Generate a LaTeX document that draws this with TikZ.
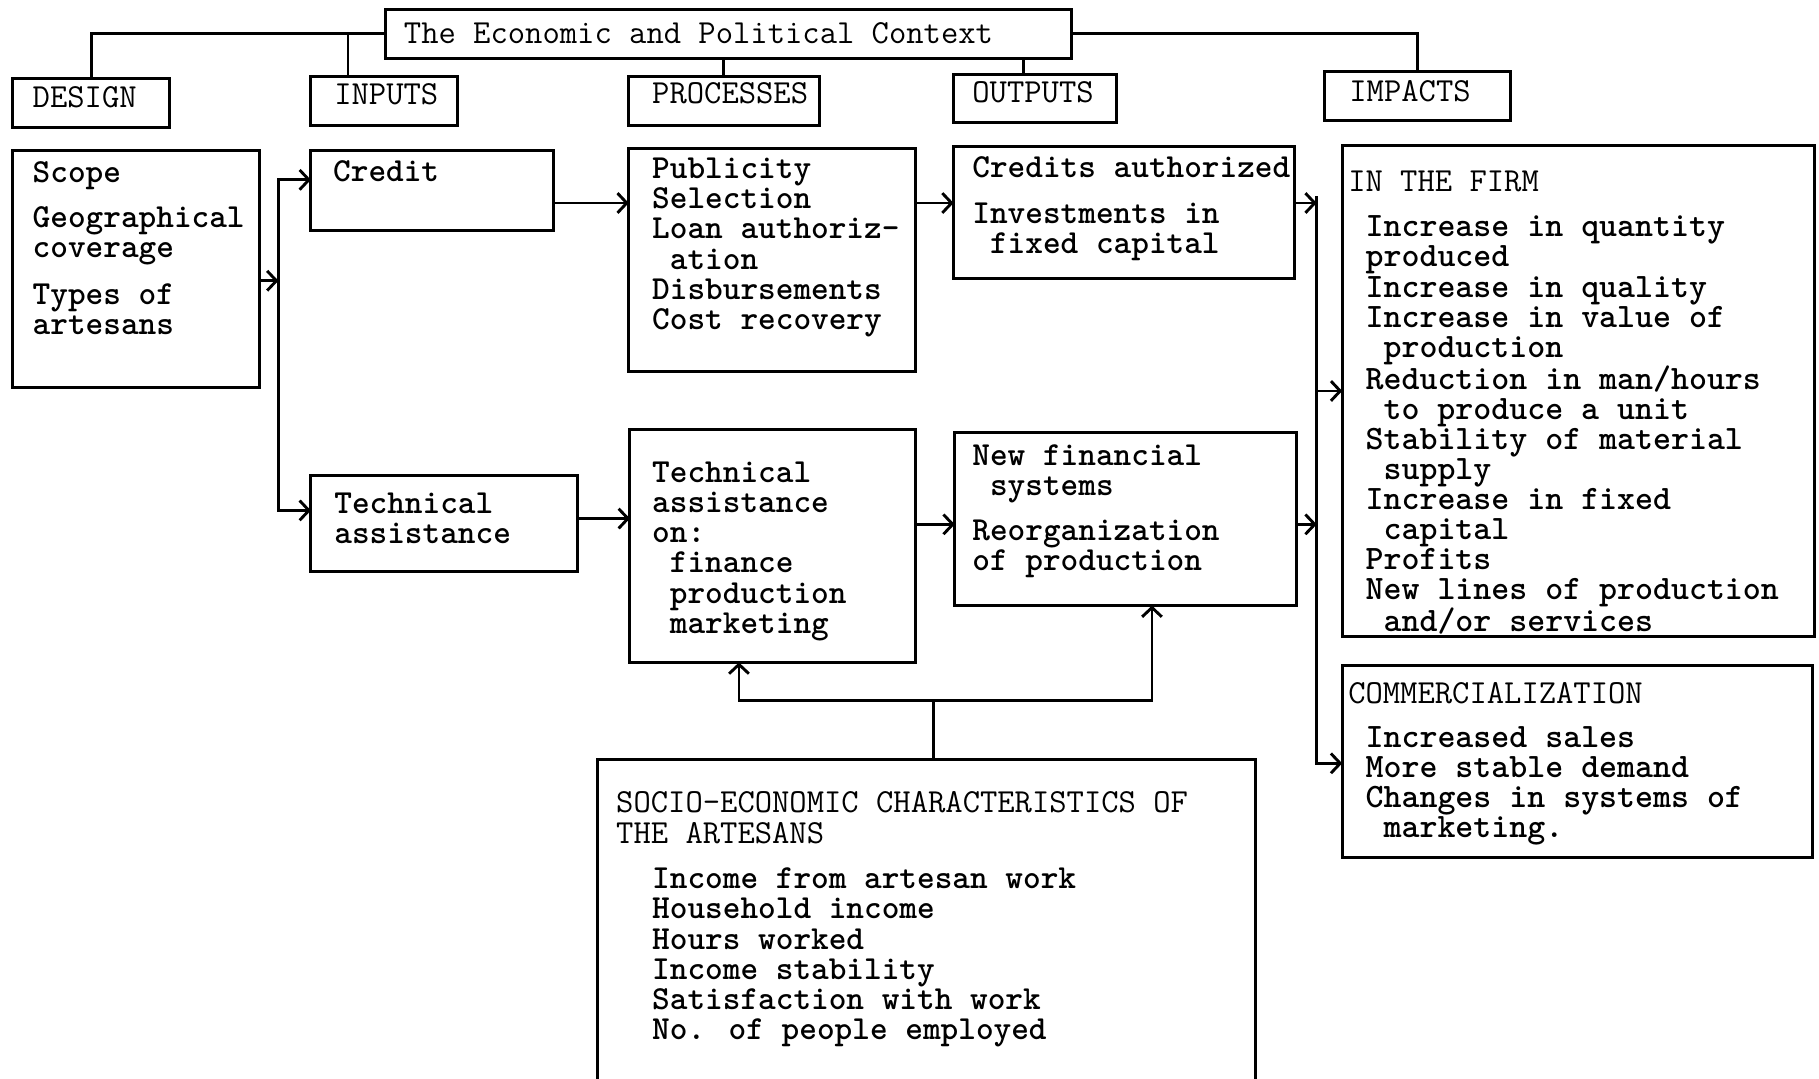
\documentclass[tikz,border=0pt]{standalone}
\usepackage{fontspec}
\usetikzlibrary{arrows.meta,calc}
\newcommand\ind{\hphantom{x}}
% \mkpanel{name}{x1}{y1}{x2}{y2}: an empty framed box between two corners
\newcommand\mkpanel[5]{%
  \node[panelbox, anchor=north west,
        minimum width={(#4-#2)*1pt}, minimum height={(#5-#3)*1pt}] (#1) at (#2,#3) {};}
\begin{document}
\begin{tikzpicture}[x=1pt,y=-1pt,
  panelbox/.style={draw, line width=2.6pt, inner sep=0pt, outer sep=0pt},
  wire/.style={line width=2.5pt, line cap=rect},
  arr/.style={line width=2.5pt, -{Straight Barb[length=8pt,width=17pt]}},
  % text blocks are placed by the baseline of their first line
  hdr/.style={anchor=north west, inner sep=0pt, align=left, yshift=18pt,
              execute at begin node={\rule{0pt}{18pt}},
              font=\ttfamily\fontsize{29}{26}\selectfont},
  itm/.style={hdr, font=\ttfamily\bfseries\fontsize{29}{26}\selectfont},
  wideitm/.style={hdr, font=\ttfamily\bfseries\fontsize{29.5}{25.9}\selectfont},
]
\fill[white] (0,0) rectangle (1568,930);
\useasboundingbox (0,0) rectangle (1568,930);

% frames
\mkpanel{ctx}{332}{8}{924}{50}
\mkpanel{hDesign}{11}{68}{146}{110}
\mkpanel{hInputs}{268}{66}{394}{108}
\mkpanel{hProc}{542}{66}{706}{108}
\mkpanel{hOut}{822}{64}{962}{106}
\mkpanel{hImp}{1142}{62}{1302}{104}
\mkpanel{dBox}{11}{130}{224}{334}
\mkpanel{credit}{268}{130}{477}{199}
\mkpanel{tech}{268}{410}{498}{493}
\mkpanel{pA}{542}{128}{789}{320}
\mkpanel{pB}{543}{370}{789}{571}
\mkpanel{oA}{822}{126}{1116}{240}
\mkpanel{oB}{823}{373}{1118}{522}
\mkpanel{firm}{1157}{125}{1564}{549}
\mkpanel{comm}{1157}{574}{1562}{739}
\mkpanel{socio}{515}{655}{1082}{934}

% headings
\node[hdr] (tCtx) at (348,37) {The Economic and Political Context};
\node[hdr] (tDesign) at (28,92) {DESIGN};
\node[hdr] (tInputs) at (288,90) {INPUTS};
\node[hdr] (tProc) at (562,89) {PROCESSES};
\node[hdr] (tOut) at (838,88) {OUTPUTS};
\node[hdr] (tImp) at (1163,87) {IMPACTS};

% box contents
\node[itm] (tD) at (28,157) {Scope\\[13pt] Geographical\\ coverage\\[14pt] Types of\\ artesans};
\node[itm] (tC) at (287,156) {Credit};
\node[itm] (tT) at (288,443) {Technical\\ assistance};
\node[itm] (tPA) at (562,154) {Publicity\\ Selection\\ Loan authoriz-\\ \ind ation\\ Disbursements\\ Cost recovery};
\node[itm] (tPB) at (562,416) {Technical\\ assistance\\ on:\\ \ind finance\\ \ind production\\ \ind marketing};
\node[itm] (tOA) at (838,153) {Credits authorized\\[13pt] Investments in\\ \ind fixed capital};
\node[itm] (tOB) at (838,401) {New financial\\ \ind systems\\[13pt] Reorganization\\ of production};
\node[hdr] (tFirmH) at (1162,165) {IN THE FIRM};
\node[wideitm] (tFirm) at (1177,204) {Increase in quantity\\ produced\\ Increase in quality\\ Increase in value of\\ \ind production\\ Reduction in man/hours\\ \ind to produce a unit\\ Stability of material\\ \ind supply\\ Increase in fixed\\ \ind capital\\ Profits\\ New lines of production\\ \ind and/or services};
\node[hdr] (tCommH) at (1162,606) {COMMERCIALIZATION};
\node[wideitm] (tComm) at (1177,644) {Increased sales\\ More stable demand\\ Changes in systems of\\ \ind marketing.};
\node[hdr] (tSocioH) at (531,700) {SOCIO-ECONOMIC CHARACTERISTICS OF\\[1pt] THE ARTESANS};
\node[itm] (tSocio) at (562,766) {Income from artesan work\\ Household income\\ Hours worked\\ Income stability\\ Satisfaction with work\\ No. of people employed};

% context to column headings
\draw[wire] (ctx.west) -| (hDesign.north);
\draw[wire] ([xshift=-31pt]hInputs.north) |- (ctx.west);
\draw[wire] (hProc.north) -- (hProc.north |- ctx.south);
\draw[wire] ([xshift=-10pt]hOut.north) -- ([xshift=-10pt]hOut.north |- ctx.south);
\draw[wire] (ctx.east) -| (hImp.north);

% design feeds both inputs
\coordinate (dJ) at (240,242);
\coordinate (dTop) at (240,155);
\coordinate (dBot) at (240,440);
\draw[arr] (dBox.east |- dJ) -- (dJ);
\draw[wire] (dTop) -- (dBot);
\draw[arr] (dTop) -- (credit.west |- dTop);
\draw[arr] (dBot) -- (tech.west |- dBot);

% inputs -> processes -> outputs
\coordinate (rowA) at (0,175);
\coordinate (rowB) at (0,447);
\coordinate (rowC) at (0,452);
\coordinate (rowD) at (0,337);
\draw[arr] (credit.east |- rowA) -- (pA.west |- rowA);
\draw[arr] (pA.east |- rowA) -- (oA.west |- rowA);
\draw[arr] (tech.east |- rowB) -- (pB.west |- rowB);
\draw[arr] (pB.east |- rowC) -- (oB.west |- rowC);

% outputs -> impacts bus
\coordinate (busTop) at (1135,170);
\coordinate (busBot) at (1135,658);
\draw[wire] (busTop) -- (busBot);
\draw[arr] (oA.east |- rowA) -- (busTop |- rowA);
\draw[arr] (oB.east |- rowC) -- (busTop |- rowC);
\draw[arr] (busTop |- rowD) -- (firm.west |- rowD);
\draw[arr] (busBot) -- (comm.west |- busBot);

% socio-economic characteristics feed back
\coordinate (sJ) at (805,604);
\coordinate (sL) at (637,604);
\coordinate (sR) at (993,604);
\draw[wire] (socio.north -| sJ) -- (sJ);
\draw[wire] (sL) -- (sR);
\draw[arr] (sL) -- (pB.south -| sL);
\draw[arr] (sR) -- (oB.south -| sR);
\end{tikzpicture}
\end{document}
